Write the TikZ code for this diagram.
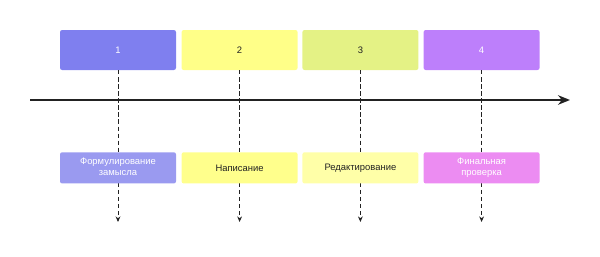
\documentclass[tikz,border=0pt]{standalone}
\usepackage{fontspec}
\setmainfont{Liberation Sans}
\usetikzlibrary{arrows.meta,positioning}
\definecolor{StageBlue}{HTML}{7F7FEF}
\definecolor{StageYellow}{HTML}{FFFF88}
\definecolor{StageLime}{HTML}{E4F285}
\definecolor{StageViolet}{HTML}{BD7FFB}
\definecolor{TaskBlue}{HTML}{9A9AF0}
\definecolor{TaskYellow}{HTML}{FFFF8C}
\definecolor{TaskPale}{HTML}{FFFFA8}
\definecolor{TaskPink}{HTML}{EC8CF2}
\definecolor{AxisInk}{HTML}{222222}
\newcommand{\twolines}[2]{\begin{tabular}{@{}c@{}}#1\\#2\end{tabular}}
\tikzset{
  every node/.style={font=\fontsize{6.7}{8}\selectfont, text=AxisInk},
  stage/.style={rounded corners=1.5pt, minimum width=2.9cm, minimum height=1cm, inner sep=2pt},
  task/.style={rounded corners=1.5pt, minimum width=2.9cm, minimum height=0.78cm, inner sep=3pt, anchor=north},
  timeline/.style={-{Stealth[length=3mm,width=2.4mm]}, draw=AxisInk, line width=1.3pt},
  drop/.style={-{Stealth[length=1.4mm,width=1.2mm]}, draw=AxisInk, line width=0.6pt, densely dashed},
}
\begin{document}
\begin{tikzpicture}
  \useasboundingbox (0,0) rectangle (15,6.4);
  % Stage headers
  \node[stage, fill=StageBlue, text=white] (s1) at (2.95,5.15) {1};
  \node[stage, fill=StageYellow] (s2) at (5.99,5.15) {2};
  \node[stage, fill=StageLime] (s3) at (9.01,5.15) {3};
  \node[stage, fill=StageViolet, text=white] (s4) at (12.04,5.15) {4};
  % Time axis
  \coordinate (start) at (0.75,3.9);
  \coordinate (end) at (14.25,3.9);
  \draw[timeline] (start) -- (end);
  % Drop lines from each stage
  \foreach \i in {1,...,4} {
    \coordinate (e\i) at (s\i.south |- 0,0.85);
    \draw[drop] (s\i.south) -- (e\i);
  }
  % Tasks below the axis
  \node[task, fill=TaskBlue, text=white] (t1) at (2.95,2.6) {\twolines{Формулирование}{замысла}};
  \node[task, fill=TaskYellow] (t2) at (5.99,2.6) {Написание};
  \node[task, fill=TaskPale] (t3) at (9.01,2.6) {Редактирование};
  \node[task, fill=TaskPink, text=white] (t4) at (12.04,2.6) {\twolines{Финальная}{проверка}};
\end{tikzpicture}
\end{document}
